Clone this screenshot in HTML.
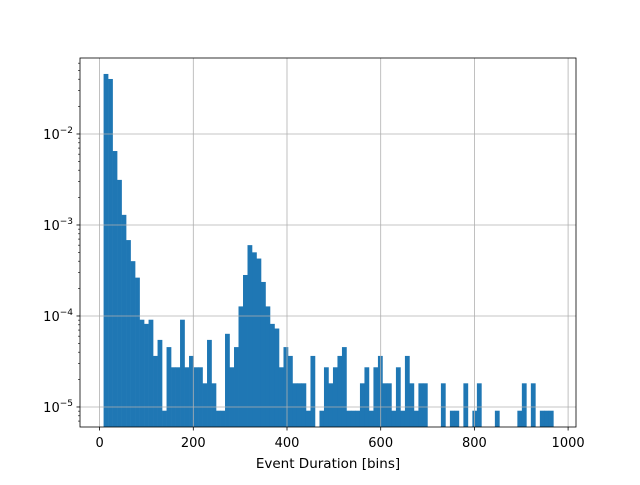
<!DOCTYPE html>
<html><head><meta charset="utf-8"><style>
body{margin:0;background:#fff;}
svg text{font-family:"DejaVu Sans","Liberation Sans",sans-serif;fill:#000;}
</style></head><body>
<svg id="chart" width="640" height="480" xmlns="http://www.w3.org/2000/svg"></svg>
<script>
const binStart = 8.5;
const binWidth = 9.6;
const counts = [5020,4420,714,344,142,75,44,29,10,9,10,4,6,1,5,3,3,10,3,4,
3,3,2,6,2,1,1,7,3,5,14,31,66,55,47,26,14,9,8,3,
5,4,2,2,2,1,4,0,1,3,2,3,4,5,1,1,1,2,3,1,
3,4,2,2,1,3,1,4,2,1,2,2,0,0,0,2,0,1,1,0,
2,0,1,2,0,0,0,1,0,0,0,0,1,2,0,2,0,1,1,1];
const unitDensity = 9.1e-6;
const xTicks = [0,200,400,600,800,1000];
const yTicks = [-5,-4,-3,-2];

const NS='http://www.w3.org/2000/svg';
const svg=document.getElementById('chart');
const L=80,R=576,T=58,B=427;
const X0=99.6, XS=0.4685;
const yLogTop=-1.165, yLogBot=-5.22;
function xs(v){return X0+v*XS;}
function ys(v){const lg=Math.log10(v);return T+(yLogTop-lg)/(yLogTop-yLogBot)*(B-T);}
function mk(tag,attrs,parent){const e=document.createElementNS(NS,tag);for(const k in attrs)e.setAttribute(k,attrs[k]);(parent||svg).appendChild(e);return e;}

const bars=mk('g',{});


counts.forEach((c,i)=>{
  if(c<=0)return;
  const x1=xs(binStart+i*binWidth), x2=xs(binStart+(i+1)*binWidth);
  const y=ys(c*unitDensity);
  const r=mk('rect',{x:x1,y:y,width:x2-x1+0.3,height:B-y,fill:'#1f77b4'},bars);
  
  
});

const grid=mk('g',{});


xTicks.forEach(t=>{const x=xs(t);if(x>=L&&x<=R)mk('line',{x1:x,x2:x,y1:T,y2:B,stroke:'#b0b0b0','stroke-width':0.8},grid);});
yTicks.forEach(t=>{const y=ys(Math.pow(10,t));mk('line',{x1:L,x2:R,y1:y,y2:y,stroke:'#b0b0b0','stroke-width':0.8},grid);});

const ax=mk('g',{});


mk('rect',{x:L,y:T,width:R-L,height:B-T,fill:'none',stroke:'#000','stroke-width':0.8},ax);
xTicks.forEach(t=>{const x=xs(t);mk('line',{x1:x,x2:x,y1:B,y2:B+3.5,stroke:'#000','stroke-width':0.8},ax);
  const tx=mk('text',{x:x,y:B+20,'text-anchor':'middle','font-size':13},ax);tx.textContent=t;
  
  });
for(let d=-6;d<=-1;d++){for(let m=2;m<=9;m++){const v=m*Math.pow(10,d);const y=ys(v);if(y>=T&&y<=B)mk('line',{x1:L-2,x2:L,y1:y,y2:y,stroke:'#000','stroke-width':0.6},ax);}}
yTicks.forEach(t=>{const y=ys(Math.pow(10,t));mk('line',{x1:L-3.5,x2:L,y1:y,y2:y,stroke:'#000','stroke-width':0.8},ax);
  const tx=mk('text',{x:L-7,y:y+5,'text-anchor':'end','font-size':13},ax);
  
  
  tx.textContent='10';const s=mk('tspan',{dy:-6,'font-size':9},tx);s.textContent='\u2212'+(-t);});
const xl=mk('text',{x:(L+R)/2,y:468,'text-anchor':'middle','font-size':13.5},ax);xl.textContent='Event Duration [bins]';


</script>
</body></html>
